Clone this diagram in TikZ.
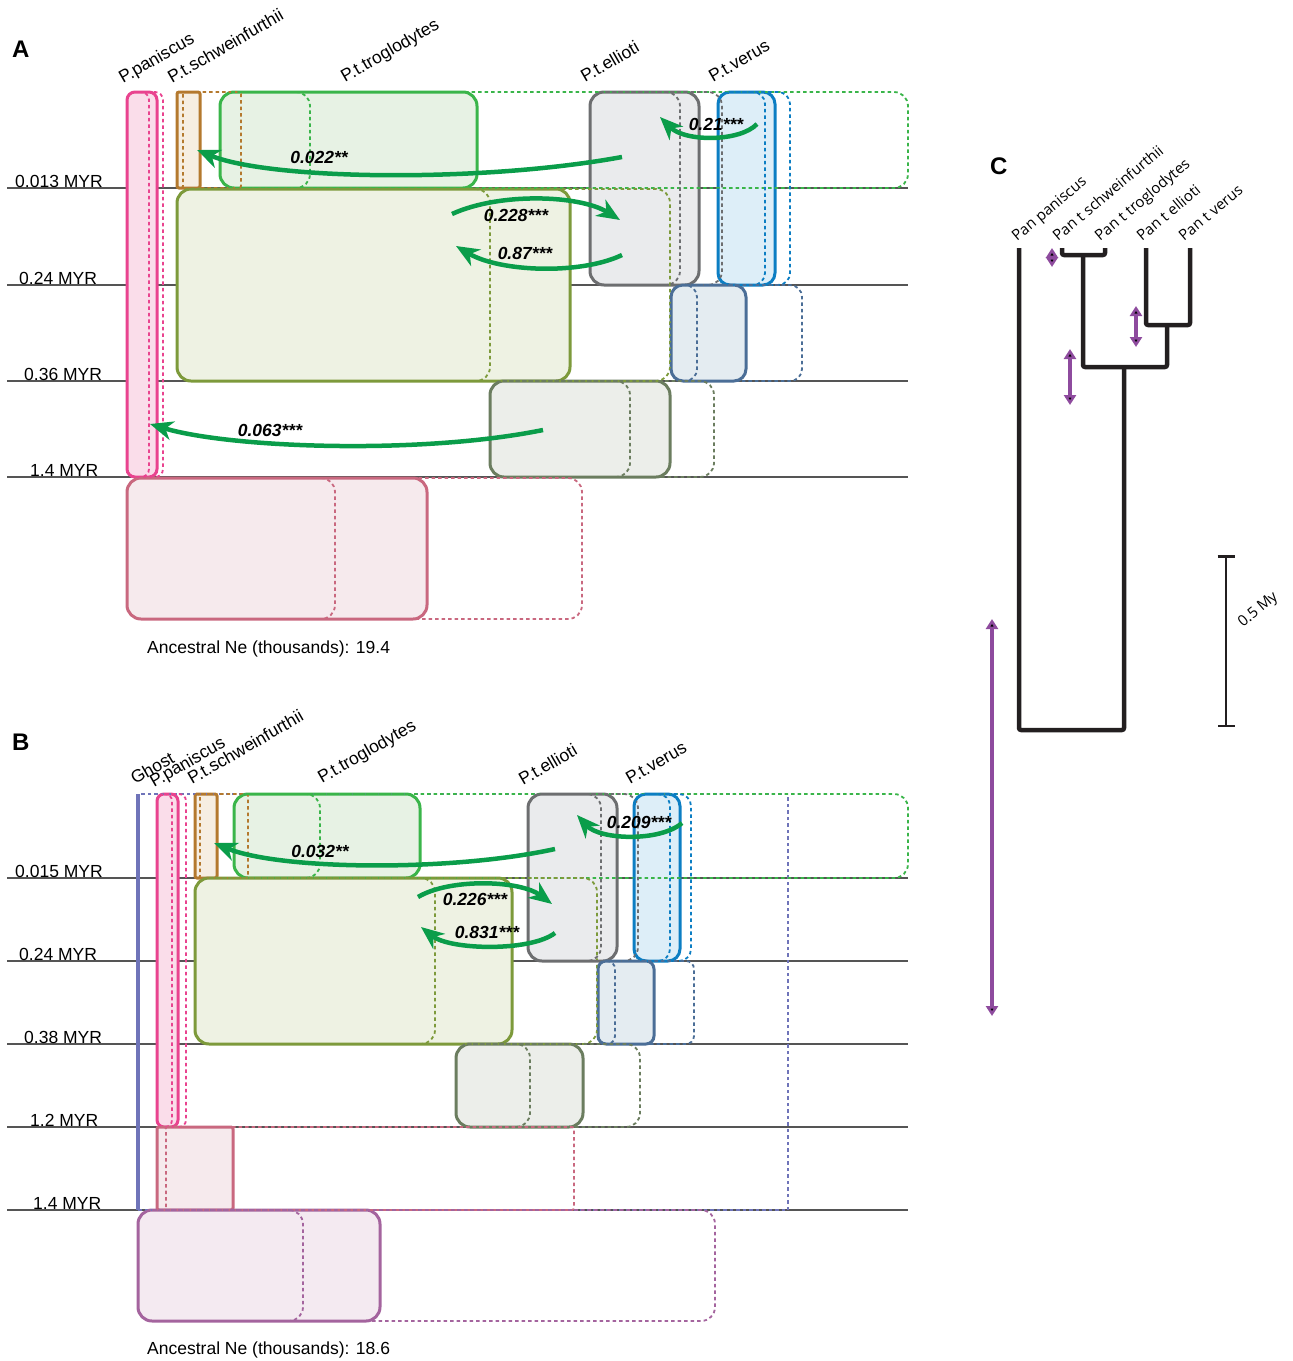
\documentclass[tikz,border=0pt]{standalone}
\usepackage{fontspec}
\setmainfont{Liberation Sans}
\newfontfamily\cfont{Open Sans}
\usetikzlibrary{arrows.meta}
\pgfdeclarelayer{lines}
\pgfdeclarelayer{boxes}
\pgfsetlayers{lines,boxes,main}
\definecolor{pinkc}{HTML}{E9438F}\definecolor{pinkf}{HTML}{FADDEA}
\definecolor{brownc}{HTML}{B4792E}\definecolor{brownf}{HTML}{F6EEE2}
\definecolor{greenc}{HTML}{3AB54A}\definecolor{greenf}{HTML}{E7F2E4}
\definecolor{olivec}{HTML}{7D9A3B}\definecolor{olivef}{HTML}{EEF2E3}
\definecolor{grayc}{HTML}{6D6E70}\definecolor{grayf}{HTML}{EAEBED}
\definecolor{bluec}{HTML}{0C7EC3}\definecolor{bluef}{HTML}{DDEEF8}
\definecolor{steelc}{HTML}{4B6E97}\definecolor{steelf}{HTML}{E4ECF1}
\definecolor{ggc}{HTML}{6B7D5F}\definecolor{ggf}{HTML}{ECEEEA}
\definecolor{rosec}{HTML}{C9687F}\definecolor{rosef}{HTML}{F6EAED}
\definecolor{purc}{HTML}{A4649E}\definecolor{purf}{HTML}{F4EAF1}
\definecolor{ghostc}{HTML}{6F74B9}
\definecolor{migc}{HTML}{0A9D4A}
\definecolor{linec}{HTML}{555555}
\definecolor{treec}{HTML}{231F20}
\definecolor{treepur}{HTML}{8E4B9E}
% #1 colour, #2 fill, #3 x0, #4 x1 (solid), #5 x lower, #6 x upper, #7 y0, #8 y1, #9 radius
\newcommand{\popbox}[9]{%
  \begin{pgfonlayer}{boxes}
    \draw[solidbox,draw=#1,fill=#2,rounded corners=#9] (#3,#7) rectangle (#4,#8);
  \end{pgfonlayer}
  \draw[dashbox,draw=#1,rounded corners=#9] (#3,#7) rectangle (#5,#8);
  \draw[dashbox,draw=#1,rounded corners=#9] (#3,#7) rectangle (#6,#8);
}
\begin{document}
\begin{tikzpicture}[x=1pt,y=-1pt,
  solidbox/.style={line width=3pt},
  dashbox/.style={line width=1.8pt,dash pattern=on 3.5pt off 3pt},
  lbl/.style={font=\fontsize{17.5}{20}\selectfont,inner sep=0pt},
  spl/.style={lbl,rotate=30,anchor=base west},
  tml/.style={lbl,anchor=base west},
  panel/.style={font=\fontsize{24}{26}\selectfont\bfseries,inner sep=0pt,anchor=base west},
  timeline/.style={draw=linec,line width=1.2pt},
  mig/.style={draw=migc,line width=4.5pt,-{Stealth[length=23pt,width=19pt,inset=7pt]}},
  miglab/.style={font=\fontsize{17.5}{20}\selectfont\bfseries\itshape,inner sep=0pt},
  tree/.style={draw=treec,line width=4.5pt,line join=round,rounded corners=2pt},
  tiplab/.style={font=\cfont\fontsize{15}{18}\selectfont,inner sep=0pt,rotate=40,anchor=base west},
  pur/.style={draw=treepur,line width=3.2pt,{Triangle[length=10pt,width=12pt,fill=black]}-{Triangle[length=10pt,width=12pt,fill=black]}}
]
\useasboundingbox (0,0) rectangle (1293,1361);

% ================= PANEL A =================
\node[panel] (labA) at (12,57) {A};
\begin{pgfonlayer}{lines}
  \foreach \yy in {188,285,381,477} {\draw[timeline] (7,\yy) -- (908,\yy);}
\end{pgfonlayer}
\node[tml] (tA1) at (15,187) {0.013 MYR};
\node[tml] (tA2) at (19,284) {0.24 MYR};
\node[tml] (tA3) at (24,380) {0.36 MYR};
\node[tml] (tA4) at (30,476) {1.4 MYR};

\popbox{pinkc}{pinkf}{127}{157}{149}{163}{92}{477}{8}
\popbox{brownc}{brownf}{177}{200}{183}{241}{92}{188}{2}
\popbox{greenc}{greenf}{220}{477}{310}{908}{92}{188}{14}
\popbox{olivec}{olivef}{177}{570}{490}{670}{189}{381}{14}
\popbox{grayc}{grayf}{590}{699}{680}{722}{92}{285}{14}
\popbox{bluec}{bluef}{718}{775}{765}{790}{92}{285}{12}
\popbox{steelc}{steelf}{671}{746}{697}{802}{285}{381}{12}
\popbox{ggc}{ggf}{490}{670}{630}{714}{381}{477}{14}
\popbox{rosec}{rosef}{127}{427}{335}{582}{478}{619}{14}

\node[spl] (sA1) at (123,84) {P.paniscus};
\node[spl] (sA2) at (172,84) {P.t.schweinfurthii};
\node[spl] (sA3) at (345,83) {P.t.troglodytes};
\node[spl] (sA4) at (585,83) {P.t.ellioti};
\node[spl] (sA5) at (713,83) {P.t.verus};

\node[tml] (ancA) at (147,653) {Ancestral Ne (thousands): 19.4};

\coordinate (a1s) at (622,157); \coordinate (a1e) at (197,150);
\coordinate (a2s) at (757,124); \coordinate (a2e) at (660,117);
\coordinate (a3s) at (452,214); \coordinate (a3e) at (620,220);
\coordinate (a4s) at (622,255); \coordinate (a4e) at (456,246);
\coordinate (a5s) at (543,430); \coordinate (a5e) at (150,424);
\draw[mig] (a1s) .. controls (480,183) and (270,180) .. (a1e);
\draw[mig] (a2s) .. controls (740,142) and (685,142) .. (a2e);
\draw[mig] (a3s) .. controls (500,192) and (580,195) .. (a3e);
\draw[mig] (a4s) .. controls (580,275) and (500,272) .. (a4e);
\draw[mig] (a5s) .. controls (420,455) and (230,448) .. (a5e);
\node[miglab] (m1) at (319,157) {0.022**};
\node[miglab] (m2) at (716,124) {0.21***};
\node[miglab] (m3) at (516,215) {0.228***};
\node[miglab] (m4) at (525,253) {0.87***};
\node[miglab] (m5) at (270,430) {0.063***};

% ================= PANEL B =================
\node[panel] (labB) at (12,750) {B};
\begin{pgfonlayer}{lines}
  \foreach \yy in {878,961,1044,1127,1210} {\draw[timeline] (7,\yy) -- (908,\yy);}
\end{pgfonlayer}
\node[tml] (tB1) at (15,877) {0.015 MYR};
\node[tml] (tB2) at (19,960) {0.24 MYR};
\node[tml] (tB3) at (24,1043) {0.38 MYR};
\node[tml] (tB4) at (30,1126) {1.2 MYR};
\node[tml] (tB5) at (33,1209) {1.4 MYR};

% ghost
\begin{pgfonlayer}{boxes}
  \draw[draw=ghostc,line width=4pt] (138,794) -- (138,1210);
\end{pgfonlayer}
\draw[dashbox,draw=ghostc] (138,794) rectangle (788,1210);

\popbox{pinkc}{pinkf}{157}{178}{172}{186}{794}{1127}{7}
\popbox{brownc}{brownf}{195}{217}{200}{248}{794}{878}{2}
\popbox{greenc}{greenf}{234}{420}{320}{908}{794}{878}{14}
\popbox{olivec}{olivef}{195}{512}{435}{597}{878}{1044}{14}
\popbox{grayc}{grayf}{528}{617}{601}{638}{794}{961}{14}
\popbox{bluec}{bluef}{634}{680}{670}{691}{794}{961}{12}
\popbox{steelc}{steelf}{598}{654}{615}{694}{961}{1044}{8}
\popbox{ggc}{ggf}{456}{583}{530}{640}{1044}{1127}{14}
\popbox{rosec}{rosef}{157}{233}{166}{574}{1127}{1210}{2}
\popbox{purc}{purf}{138}{380}{303}{715}{1210}{1321}{14}

\node[spl] (sB0) at (135,785) {Ghost};
\node[spl] (sB1) at (154,788) {P.paniscus};
\node[spl] (sB2) at (192,785) {P.t.schweinfurthii};
\node[spl] (sB3) at (322,784) {P.t.troglodytes};
\node[spl] (sB4) at (523,786) {P.t.ellioti};
\node[spl] (sB5) at (630,785) {P.t.verus};

\node[tml] (ancB) at (147,1354) {Ancestral Ne (thousands): 18.6};

\coordinate (b1s) at (555,849); \coordinate (b1e) at (214,843);
\coordinate (b2s) at (682,823); \coordinate (b2e) at (577,815);
\coordinate (b3s) at (418,897); \coordinate (b3e) at (552,904);
\coordinate (b4s) at (555,933); \coordinate (b4e) at (421,927);
\draw[mig] (b1s) .. controls (450,872) and (280,870) .. (b1e);
\draw[mig] (b2s) .. controls (660,842) and (600,840) .. (b2e);
\draw[mig] (b3s) .. controls (450,878) and (520,880) .. (b3e);
\draw[mig] (b4s) .. controls (530,952) and (450,950) .. (b4e);
\node[miglab] (n1) at (320,851) {0.032**};
\node[miglab] (n2) at (639,822) {0.209***};
\node[miglab] (n3) at (475,899) {0.226***};
\node[miglab] (n4) at (487,932) {0.831***};

% ================= PANEL C =================
\node[panel] (labC) at (990,174) {C};
\coordinate (tPP) at (1019,248);
\coordinate (tSC) at (1062,248);
\coordinate (tTR) at (1105,248);
\coordinate (tEL) at (1146,248);
\coordinate (tVE) at (1190,248);
\coordinate (nST) at (1083,255);
\coordinate (nEV) at (1167,325);
\coordinate (nPT) at (1124,367);
\coordinate (nRoot) at (1071,730);
\draw[tree] (tPP) |- (nRoot) -| (nPT);
\draw[tree] (nST) |- (nPT) -| (nEV);
\draw[tree] (tSC) |- (nST) -| (tTR);
\draw[tree] (tEL) |- (nEV) -| (tVE);

\node[tiplab] (lPP) at (1017,242) {Pan paniscus};
\node[tiplab] (lSC) at (1058,242) {Pan t schweinfurthii};
\node[tiplab] (lTR) at (1100,242) {Pan t troglodytes};
\node[tiplab] (lEL) at (1142,242) {Pan t ellioti};
\node[tiplab] (lVE) at (1184,242) {Pan t verus};

\coordinate (p1a) at (1052,248); \coordinate (p1b) at (1052,267);
\coordinate (p2a) at (1136,306); \coordinate (p2b) at (1136,347);
\coordinate (p3a) at (1070,349); \coordinate (p3b) at (1070,405);
\coordinate (p4a) at (992,619);  \coordinate (p4b) at (992,1016);
\draw[pur] (p1a) -- (p1b);
\draw[pur] (p2a) -- (p2b);
\draw[pur] (p3a) -- (p3b);
\draw[pur] (p4a) -- (p4b);

\coordinate (sbTop) at (1226,555); \coordinate (sbBot) at (1226,727);
\draw[draw=treec,line width=2.5pt,{Bar[width=17pt]}-{Bar[width=17pt]}] (sbTop) -- (sbBot);
\node[tiplab,font=\cfont\fontsize{15}{17}\selectfont] (sbl) at (1243,628) {0.5 My};
\end{tikzpicture}
\end{document}
